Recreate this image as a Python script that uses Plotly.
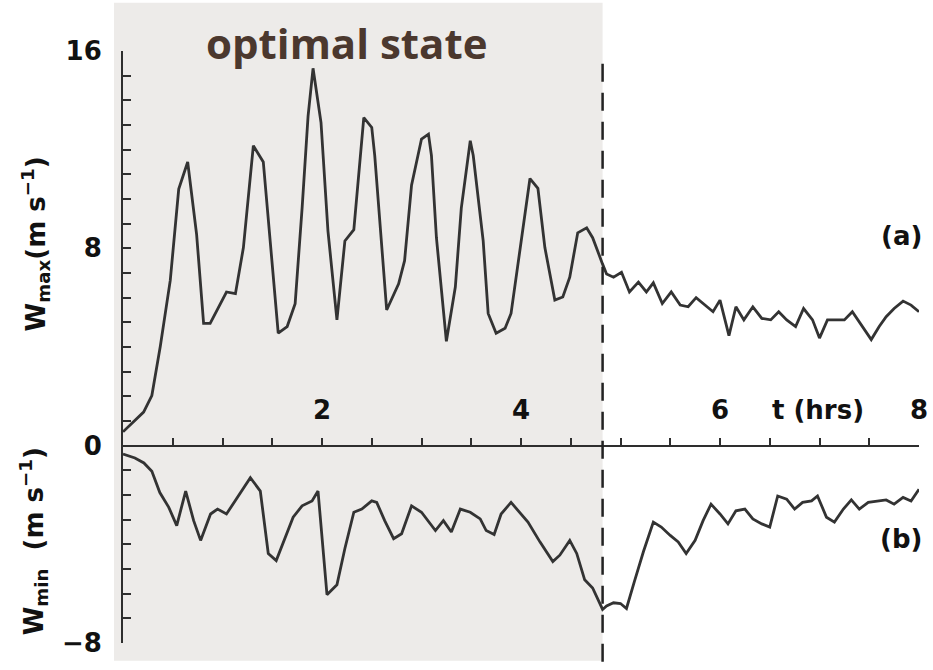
import plotly.graph_objects as go

# ---------------- data ----------------
t_max = [0, 0.107, 0.207, 0.29, 0.375, 0.475, 0.56, 0.65, 0.74, 0.81, 0.876, 1.04, 1.13, 1.21,
         1.31, 1.41, 1.48, 1.56, 1.65, 1.73, 1.80, 1.86, 1.91, 1.99, 2.06, 2.15, 2.23, 2.32,
         2.42, 2.50, 2.53, 2.65, 2.77, 2.83, 2.90, 3.00, 3.07, 3.10, 3.15, 3.25, 3.34, 3.40,
         3.49, 3.52, 3.62, 3.67, 3.75, 3.84, 3.90, 4.01, 4.09, 4.17, 4.24, 4.34, 4.42, 4.49,
         4.57, 4.66, 4.72, 4.82, 4.86, 4.93, 5.01, 5.09, 5.18, 5.26, 5.33, 5.42, 5.51, 5.60,
         5.68, 5.76, 5.85, 5.93, 6.00, 6.09, 6.16, 6.24, 6.33, 6.42, 6.51, 6.59, 6.67, 6.76,
         6.84, 6.93, 7.00, 7.08, 7.17, 7.25, 7.33, 7.43, 7.52, 7.60, 7.67, 7.75, 7.84, 7.92, 8.00]
w_max = [0.56, 0.96, 1.36, 2.03, 4.03, 6.7, 10.4, 11.5, 8.56, 4.96, 4.96, 6.23, 6.16, 8.03,
         12.16, 11.5, 8.3, 4.56, 4.83, 5.76, 9.63, 13.36, 15.3, 13.1, 8.7, 5.1, 8.3, 8.76,
         13.3, 12.9, 11.76, 5.5, 6.56, 7.5, 10.56, 12.43, 12.63, 11.76, 8.43, 4.23, 6.43, 9.63,
         12.36, 11.76, 8.3, 5.36, 4.56, 4.76, 5.36, 8.56, 10.83, 10.43, 8.03, 5.9, 6.03, 6.83,
         8.63, 8.83, 8.43, 7.36, 6.96, 6.83, 7.03, 6.23, 6.63, 6.23, 6.6, 5.76, 6.23, 5.7,
         5.63, 6.0, 5.7, 5.43, 5.9, 4.46, 5.63, 5.1, 5.63, 5.16, 5.1, 5.43, 5.1, 4.83,
         5.56, 5.1, 4.36, 5.1, 5.1, 5.1, 5.43, 4.83, 4.3, 4.83, 5.23, 5.56, 5.86, 5.7, 5.43]

t_min = [0, 0.12, 0.21, 0.29, 0.37, 0.46, 0.54, 0.63, 0.71, 0.78, 0.88, 0.95, 1.04, 1.16,
         1.28, 1.38, 1.46, 1.54, 1.63, 1.71, 1.80, 1.90, 1.96, 2.05, 2.15, 2.23, 2.32, 2.40,
         2.50, 2.55, 2.63, 2.72, 2.80, 2.90, 3.00, 3.14, 3.22, 3.30, 3.39, 3.49, 3.59, 3.65,
         3.73, 3.80, 3.90, 3.97, 4.07, 4.19, 4.32, 4.39, 4.49, 4.56, 4.64, 4.72, 4.82, 4.86,
         4.93, 5.00, 5.06, 5.14, 5.23, 5.33, 5.41, 5.50, 5.58, 5.66, 5.75, 5.83, 5.91, 6.00,
         6.08, 6.16, 6.25, 6.33, 6.42, 6.50, 6.58, 6.67, 6.75, 6.83, 6.92, 6.98, 7.07, 7.15,
         7.24, 7.32, 7.40, 7.49, 7.59, 7.67, 7.75, 7.84, 7.92, 8.00]
w_min = [-0.34, -0.5, -0.7, -1.04, -1.9, -2.5, -3.24, -1.84, -3.04, -3.84, -2.77, -2.57, -2.77, -2.04,
         -1.3, -1.84, -4.37, -4.66, -3.77, -2.9, -2.44, -2.24, -1.84, -6.04, -5.64, -4.17, -2.7, -2.57,
         -2.24, -2.3, -3.04, -3.77, -3.57, -2.44, -2.7, -3.44, -3.04, -3.5, -2.57, -2.7, -2.97, -3.44,
         -3.6, -2.77, -2.3, -2.64, -3.1, -3.9, -4.7, -4.44, -3.84, -4.37, -5.44, -5.77, -6.64, -6.5,
         -6.37, -6.4, -6.6, -5.5, -4.3, -3.1, -3.3, -3.64, -3.9, -4.37, -3.84, -3.04, -2.37, -2.77,
         -3.17, -2.64, -2.57, -2.97, -3.17, -3.3, -2.04, -2.17, -2.57, -2.3, -2.24, -2.04, -2.9, -3.1,
         -2.57, -2.2, -2.57, -2.3, -2.24, -2.2, -2.37, -2.1, -2.24, -1.77]

T_SPLIT = 4.82                 # end of the "optimal state" period (hrs)
x_range = [0, 8]
y_range = [-8, 16]
y_tick_vals = [-8, 0, 8, 16]
y_tick_text = ["−8", "0", "8", "16"]
x_label_vals = [2, 4, 6, 8]
x_label_text = ["2", "4", "6", "8"]
title_text = "optimal state"

# ---------------- layout geometry ----------------
W, H = 933, 670
ML, MR, MT, MB = 123, 14, 51, 19
PW, PH = W - ML - MR, H - MT - MB

def px_x(px):
    return (px - ML) / PW

def px_y(py):
    return (H - MB - py) / PH

INK = "#2e2e2e"
FONT = dict(family="DejaVu Sans, Liberation Sans, sans-serif", size=26, color="#111111", weight="bold")

fig = go.Figure()
fig.add_trace(go.Scatter(x=t_max, y=w_max, mode="lines",
                         line=dict(color="#333333", width=2.8), showlegend=False, hoverinfo="skip"))
fig.add_trace(go.Scatter(x=t_min, y=w_min, mode="lines",
                         line=dict(color="#333333", width=2.8), showlegend=False, hoverinfo="skip"))

x_split_paper = (T_SPLIT - x_range[0]) / (x_range[1] - x_range[0])

# shaded "optimal state" panel
fig.add_shape(type="rect", xref="paper", yref="paper",
              x0=px_x(114), x1=x_split_paper, y0=px_y(669), y1=px_y(2),
              fillcolor="#edebe9", line=dict(width=0), layer="below")
# dashed separator
fig.add_shape(type="line", xref="paper", yref="paper",
              x0=x_split_paper, x1=x_split_paper, y0=px_y(670), y1=px_y(56),
              line=dict(color="#222222", width=2.5, dash="18px,11px"), layer="above")

zero_pos = (0 - y_range[0]) / (y_range[1] - y_range[0])

fig.update_layout(
    width=W, height=H,
    margin=dict(l=ML, r=MR, t=MT, b=MB, pad=0),
    paper_bgcolor="white", plot_bgcolor="rgba(0,0,0,0)",
    xaxis=dict(range=x_range, anchor="free", position=zero_pos,
               showline=True, linecolor=INK, linewidth=2,
               ticks="inside", tick0=0, dtick=0.5, ticklen=7, tickwidth=2, tickcolor=INK,
               showticklabels=False, showgrid=False, zeroline=False),
    yaxis=dict(range=y_range, showline=True, linecolor=INK, linewidth=2,
               ticks="inside", tickvals=y_tick_vals, ticktext=y_tick_text,
               ticklen=8, tickwidth=2, tickcolor=INK,
               minor=dict(dtick=1, tick0=0, ticks="inside", ticklen=8, tickwidth=2, tickcolor=INK),
               tickfont=FONT, ticklabelstandoff=14,
               showgrid=False, zeroline=False),
)

ann = []
for v, s in zip(x_label_vals, x_label_text):
    ann.append(dict(x=v, y=0, xref="x", yref="y", text=s, showarrow=False,
                    yshift=36, font=FONT, xanchor="center", yanchor="middle"))
ann.append(dict(x=6.98, y=0, xref="x", yref="y", text="t (hrs)", showarrow=False,
                yshift=36, font=FONT, xanchor="center", yanchor="middle"))
ann.append(dict(x=1, y=8.5, xref="paper", yref="y", text="(a)", showarrow=False,
                xshift=5, font=FONT, xanchor="right", yanchor="middle"))
ann.append(dict(x=1, y=-3.8, xref="paper", yref="y", text="(b)", showarrow=False,
                xshift=5, font=FONT, xanchor="right", yanchor="middle"))
ann.append(dict(x=px_x(35), y=px_y(247), xref="paper", yref="paper",
                text="W<sub>max</sub>(m s<sup>−1</sup>)", textangle=-90, showarrow=False,
                font=dict(FONT, size=26), xanchor="center", yanchor="middle"))
ann.append(dict(x=px_x(33), y=px_y(548), xref="paper", yref="paper",
                text="W<sub>min</sub>  (m s<sup>−1</sup>)", textangle=-90, showarrow=False,
                font=dict(FONT, size=26), xanchor="center", yanchor="middle"))
ann.append(dict(x=px_x(347), y=px_y(42), xref="paper", yref="paper",
                text=title_text, showarrow=False,
                font=dict(family="Open Sans, Noto Sans, sans-serif", size=42, color="#4b382e", weight="bold"),
                xanchor="center", yanchor="middle"))
fig.update_layout(annotations=ann)

fig.write_html("out.html")
